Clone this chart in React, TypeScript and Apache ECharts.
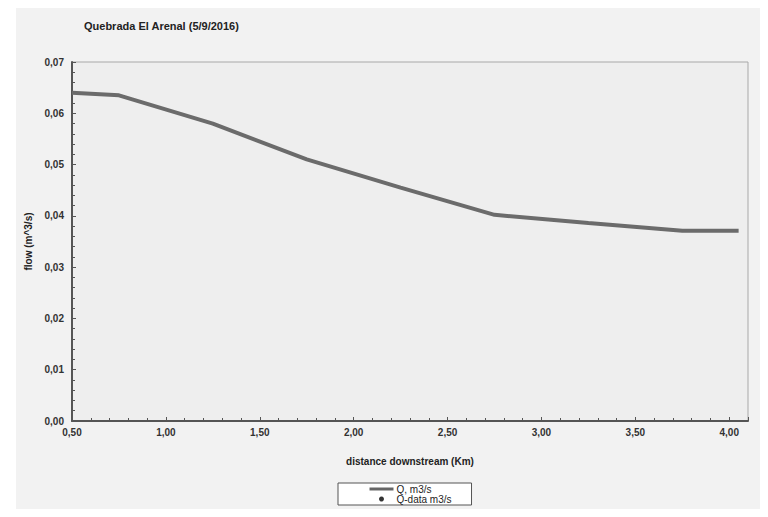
import React, { useEffect, useRef } from "react";
import * as echarts from "echarts";

const distances = [0.5, 0.75, 1.25, 1.75, 2.25, 2.75, 3.25, 3.75, 4.05];
const flowQ = [0.064, 0.0635, 0.058, 0.051, 0.0455, 0.0402, 0.0386, 0.0371, 0.0371];
const flowData: number[][] = [];

const titleText = "Quebrada El Arenal (5/9/2016)";
const seriesNames = ["Q, m3/s", "Q-data m3/s"];

const fmt = (v: number, d: number) => v.toFixed(d).replace(".", ",");

export default function App() {
  const ref = useRef<HTMLDivElement>(null);
  useEffect(() => {
    if (!ref.current) return;
    const chart = echarts.init(ref.current, undefined, { renderer: "svg" });
    const font = "Liberation Sans, Arial, sans-serif";
    chart.setOption({
      animation: false,
      backgroundColor: "#ffffff",
      textStyle: { fontFamily: font },
      graphic: [
        {
          type: "rect",
          z: -10,
          silent: true,
          shape: { x: 16, y: 5, width: 752, height: 512 },
          style: { fill: "#f2f2f2" },
        },
      ],
      title: {
        text: titleText,
        left: 79,
        top: 15,
        textStyle: { fontSize: 11, fontWeight: "bold", color: "#222", fontFamily: font },
      },
      grid: {
        left: 72,
        right: 20,
        top: 62,
        bottom: 96,
        show: true,
        backgroundColor: "#eeeeee",
        borderColor: "#a8a8a8",
        borderWidth: 1,
      },
      legend: {
        orient: "vertical",
        left: 338,
        top: 483,
        padding: [1, 20, 1, 30],
        itemGap: 0,
        itemWidth: 24,
        itemHeight: 5,
        borderColor: "#555",
        borderWidth: 1,
        backgroundColor: "#ffffff",
        textStyle: { fontSize: 10, color: "#222", padding: [0, 0, 0, -2], fontFamily: font },
        data: [
          { name: seriesNames[0], itemStyle: { opacity: 0 }, lineStyle: { width: 3, color: "#666" } },
          { name: seriesNames[1], icon: "circle", itemStyle: { color: "#000" } },
        ],
      },
      xAxis: {
        type: "value",
        min: 0.5,
        max: 4.1,
        interval: 0.5,
        name: "distance downstream (Km)",
        nameLocation: "middle",
        nameGap: 35,
        nameTextStyle: { fontSize: 10, color: "#222", fontWeight: "bold" },
        axisLine: { show: true, onZero: false, lineStyle: { color: "#555", width: 2 } },
        axisTick: { show: true, length: 4, inside: true, lineStyle: { color: "#555" } },
        minorTick: { show: true, splitNumber: 5, length: 3, lineStyle: { color: "#555" } },
        splitLine: { show: false },
        axisLabel: {
          fontSize: 10,
          fontWeight: "bold",
          color: "#333",
          margin: 6,
          showMaxLabel: false,
          formatter: (v: number) => (v > 4.05 ? "" : fmt(v, 2)),
        },
      },
      yAxis: {
        type: "value",
        min: 0,
        max: 0.07,
        interval: 0.01,
        name: "flow (m^3/s)",
        nameLocation: "middle",
        nameGap: 36,
        nameTextStyle: { fontSize: 10, color: "#222", fontWeight: "bold" },
        axisLine: { show: true, lineStyle: { color: "#555", width: 2 } },
        axisTick: { show: true, length: 4, inside: true, lineStyle: { color: "#555" } },
        minorTick: { show: true, splitNumber: 5, length: 3, lineStyle: { color: "#555" } },
        splitLine: { show: false },
        axisLabel: {
          fontSize: 10,
          fontWeight: "bold",
          color: "#333",
          margin: 8,
          formatter: (v: number) => fmt(v, 2),
        },
      },
      series: [
        {
          name: seriesNames[0],
          type: "line",
          data: distances.map((d, i) => [d, flowQ[i]]),
          showSymbol: false,
          symbol: "none",
          lineStyle: { color: "#6b6b6b", width: 4 },
          itemStyle: { color: "#6b6b6b" },
        },
        {
          name: seriesNames[1],
          type: "scatter",
          data: flowData,
          symbol: "circle",
          symbolSize: 4,
          itemStyle: { color: "#000" },
        },
      ],
    });
    return () => chart.dispose();
  }, []);
  return <div ref={ref} style={{ width: 768, height: 517, margin: -8 }} />;
}
